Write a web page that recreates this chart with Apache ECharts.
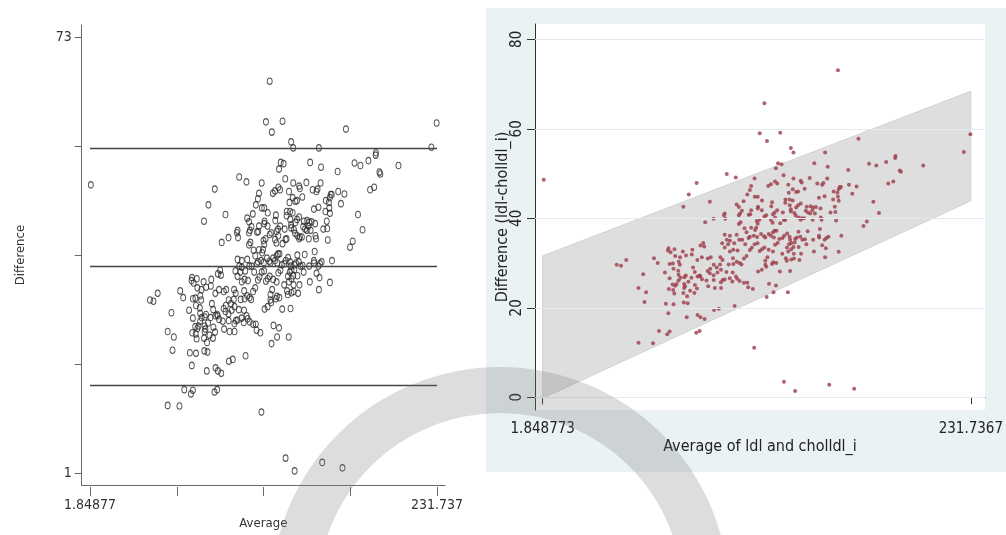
<!DOCTYPE html>
<html>
<head>
<meta charset="utf-8">
<title>Bland-Altman ldl vs cholldl_i</title>
<script src="https://cdn.jsdelivr.net/npm/echarts@6/dist/echarts.min.js"></script>
<style>
  html, body { margin: 0; padding: 0; background: #fff; }
  #chart { width: 1006px; height: 535px; }
</style>
</head>
<body>
<div id="chart"></div>
<script>
// average of ldl and cholldl_i (x) for every subject
var avgVals = [
  2.4, 118.4, 129.4, 122.3, 135.1, 136.5, 171.4, 153.5, 147.7, 154.9,
  165.9, 231.5, 228.0, 206.2, 177.1, 181.0, 186.3, 191.1, 191.3, 193.6,
  194.2, 190.1, 187.4, 170.4, 168.1, 166.3, 179.4, 182.4, 175.9, 174.1,
  162.2, 160.8, 153.5, 128.2, 130.1, 127.1, 131.2, 136.5, 140.4, 140.9,
  142.5, 145.2, 100.7, 105.5, 115.6, 84.5, 80.3, 77.4, 91.6, 113.8,
  113.1, 111.7, 115.7, 117.3, 119.6, 109.7, 106.0, 107.2, 123.0, 124.4,
  126.6, 127.8, 133.7, 134.0, 136.1, 137.9, 139.0, 132.2, 134.4, 136.1,
  132.1, 125.0, 124.6, 149.3, 151.9, 152.6, 154.6, 153.2, 150.2, 148.6,
  147.1, 146.6, 148.0, 151.0, 151.2, 151.6, 146.8, 150.7, 157.8, 158.7,
  160.8, 160.4, 160.1, 160.8, 161.3, 162.0, 158.1, 156.4, 159.0, 159.4,
  140.4, 139.0, 137.9, 137.0, 134.5, 135.1, 135.1, 137.7, 139.2, 140.4,
  140.9, 142.2, 143.6, 143.1, 144.3, 145.5, 145.7, 130.8, 132.1, 131.4,
  127.8, 126.4, 126.6, 129.4, 125.3, 125.5, 124.4, 121.9, 120.9, 119.5,
  117.3, 117.5, 113.8, 113.3, 112.5, 107.8, 108.8, 107.2, 99.6, 99.2,
  99.9, 93.6, 89.1, 118.2, 117.3, 116.8, 116.5, 115.9, 113.8, 115.2,
  113.1, 111.3, 110.2, 108.1, 107.2, 106.0, 107.4, 109.0, 110.6, 112.4,
  117.0, 119.1, 120.7, 121.4, 123.2, 124.4, 126.0, 125.5, 126.4, 127.4,
  128.9, 128.0, 126.6, 130.6, 131.5, 133.1, 134.4, 134.7, 135.3, 134.2,
  133.0, 133.7, 135.3, 137.4, 138.3, 140.2, 139.2, 141.3, 142.7, 143.4,
  144.1, 147.1, 150.2, 150.3, 151.9, 153.2, 154.2, 155.3, 153.9, 147.5,
  137.2, 136.5, 139.3, 140.6, 139.7, 136.8, 136.7, 135.3, 132.4, 132.9,
  130.5, 127.3, 125.7, 125.0, 121.9, 123.2, 125.5, 122.5, 121.4, 120.9,
  119.6, 118.4, 117.2, 115.6, 114.1, 113.1, 111.3, 109.9, 108.6, 107.6,
  106.0, 104.2, 104.0, 101.7, 104.7, 102.4, 101.4, 100.7, 99.6, 102.4,
  104.2, 106.5, 102.4, 99.6, 98.2, 97.3, 98.4, 97.1, 95.3, 93.7,
  91.8, 92.1, 90.5, 88.6, 88.1, 86.6, 87.3, 84.9, 82.2, 81.9,
  78.8, 77.1, 75.6, 74.9, 75.5, 73.0, 72.6, 69.1, 69.4, 70.5,
  70.0, 72.1, 74.6, 74.8, 75.8, 82.6, 83.5, 86.1, 87.4, 90.4,
  91.6, 93.6, 95.7, 97.6, 98.5, 99.6, 100.5, 103.9, 105.6, 106.3,
  107.6, 109.9, 111.7, 112.2, 114.7, 117.5, 119.5, 121.4, 123.4, 127.1,
  125.8, 133.5, 122.1, 134.7, 129.2, 102.3, 103.7, 94.3, 97.6, 97.5,
  93.7, 90.7, 89.8, 86.5, 85.0, 84.7, 83.6, 83.3, 78.7, 77.9,
  77.8, 78.3, 77.8, 77.4, 79.4, 81.0, 81.7, 80.1, 74.8, 73.7,
  73.0, 71.9, 72.5, 71.6, 71.7, 70.0, 69.6, 67.5, 63.6,
  61.6, 55.8, 56.5, 53.3, 57.4, 68.0, 72.1, 69.3, 77.6, 79.7,
  79.2, 85.0, 86.6, 88.8, 93.9, 96.4, 104.9, 84.3, 86.1, 70.0,
  68.7, 64.3, 61.1, 53.3, 41.6, 43.9, 46.7, 115.4, 131.4, 137.4,
  155.7, 169.1, 160.4, 120.9
];
// difference ldl - cholldl_i, same order
var diffVals = [
  48.6, 59.0, 59.1, 57.3, 55.7, 54.7, 57.8, 54.7, 52.3, 51.5,
  50.8, 58.8, 54.8, 51.8, 52.2, 51.8, 52.6, 53.5, 53.9, 50.7,
  50.4, 48.2, 47.8, 47.1, 45.5, 47.5, 43.7, 41.2, 39.3, 38.3,
  36.1, 32.5, 31.3, 52.3, 52.1, 51.2, 49.6, 48.9, 48.4, 48.0,
  46.6, 49.0, 49.9, 49.1, 48.9, 47.9, 45.3, 42.6, 43.7, 47.2,
  46.3, 45.3, 44.8, 44.8, 44.0, 43.8, 43.1, 42.5, 47.2, 47.6,
  48.2, 47.8, 47.5, 45.7, 46.5, 45.9, 46.0, 44.2, 44.2, 44.0,
  43.5, 43.6, 42.7, 47.8, 47.5, 47.9, 48.9, 44.9, 44.6, 42.5,
  42.4, 41.8, 41.1, 42.2, 40.2, 39.7, 39.7, 37.6, 44.2, 42.6,
  43.9, 44.8, 45.7, 46.5, 47.0, 47.0, 46.0, 41.3, 41.4, 39.5,
  43.3, 42.9, 42.4, 41.2, 42.9, 42.0, 41.5, 40.6, 40.2, 39.7,
  40.0, 40.0, 42.6, 41.7, 41.3, 41.1, 42.7, 41.3, 39.7, 39.6,
  41.8, 41.3, 40.2, 38.9, 39.0, 40.9, 39.6, 40.7, 40.4, 41.8,
  42.2, 42.6, 41.8, 40.9, 40.8, 41.1, 41.7, 40.7, 41.1, 40.7,
  39.9, 39.9, 39.1, 39.7, 38.8, 39.4, 37.9, 37.4, 37.9, 36.1,
  35.9, 36.9, 37.8, 39.1, 38.7, 36.3, 35.2, 35.2, 34.2, 35.6,
  35.8, 36.5, 36.0, 35.7, 36.5, 36.1, 35.7, 36.9, 37.2, 37.2,
  35.4, 34.5, 34.1, 35.6, 36.1, 36.6, 35.9, 35.2, 34.5, 34.2,
  33.5, 32.6, 33.1, 35.4, 35.7, 35.9, 37.0, 35.2, 35.3, 34.2,
  37.1, 35.2, 36.1, 35.7, 34.0, 35.2, 35.6, 35.9, 33.3, 32.6,
  34.6, 33.6, 33.6, 32.1, 30.7, 31.0, 32.1, 30.8, 31.1, 30.5,
  32.1, 30.0, 30.2, 29.8, 29.2, 33.0, 32.6, 31.3, 30.5, 33.5,
  33.1, 32.7, 34.4, 34.2, 33.4, 32.9, 31.6, 31.0, 29.7, 30.0,
  30.3, 29.8, 31.1, 29.7, 34.4, 35.0, 34.2, 35.2, 36.3, 36.1,
  33.0, 32.8, 32.6, 33.5, 34.4, 31.3, 30.7, 29.7, 29.0, 29.6,
  28.7, 31.3, 31.0, 33.7, 34.5, 33.9, 31.3, 30.7, 33.0, 31.9,
  31.7, 32.6, 31.3, 30.3, 29.6, 31.6, 33.1, 32.8, 33.3, 32.4,
  29.8, 28.7, 28.3, 27.4, 26.7, 29.0, 28.0, 27.2, 26.4, 28.2,
  27.7, 27.3, 27.9, 28.5, 26.2, 26.3, 28.0, 27.9, 27.0, 26.5,
  26.0, 25.6, 25.6, 24.6, 24.2, 28.1, 28.5, 29.6, 25.4, 25.0,
  23.5, 23.5, 22.4, 28.2, 28.1, 26.6, 25.9, 24.4, 24.4, 25.7,
  26.2, 24.8, 26.1, 27.0, 27.0, 24.3, 25.1, 23.3, 27.2, 26.8,
  25.3, 24.8, 24.4, 23.3, 22.6, 23.8, 26.7, 25.8, 26.1, 25.3,
  24.9, 24.0, 23.2, 25.2, 29.9, 26.6, 24.2, 27.9, 30.0,
  31.1, 27.5, 21.3, 24.4, 23.5, 20.9, 20.8, 18.8, 21.2, 21.0,
  17.9, 18.4, 17.9, 17.5, 19.5, 19.8, 20.4, 14.4, 14.8, 14.7,
  14.1, 14.8, 12.1, 12.2, 29.6, 29.4, 30.7, 11.1, 3.5, 1.4,
  2.8, 1.9, 73.1, 65.7
];

// left panel: mean difference and limits of agreement
var leftLimitVals = [54.7, 35.1, 15.5];
var leftXTickLabels = ["1.84877", "", "", "", "231.737"];
var leftYTickLabels = ["1", "", "", "", "73"];

// right panel: shaded band (ends at min and max average)
var bandX = [1.848773, 231.7367];
var bandUpper = [31.6, 68.4];
var bandLower = [-0.2, 43.9];
var rightXTickLabels = ["1.848773", "231.7367"];
var rightYTicks = [0, 20, 40, 60, 80];

var points = avgVals.map(function (x, i) { return [x, diffVals[i]]; });

var narrow = "'Liberation Sans Narrow', 'Arial Narrow', 'DejaVu Sans Condensed', sans-serif";

var lxMin = 1.84877, lxMax = 231.737;
var rxMin = 1.848773, rxMax = 231.7367;
// right outer frame maps the same scale as the data frame, just wider
var r1YMin = -2.838, r1YMax = 83.419;

var myChart = echarts.init(document.getElementById("chart"), null, { renderer: "canvas" });

myChart.setOption({
  animation: false,
  graphic: [
    {
      type: "rect",
      z: -1,
      silent: true,
      shape: { x: 486, y: 8, width: 520, height: 464 },
      style: { fill: "#eaf2f3" }
    },
    // faint logo watermark of the scanned page
    {
      type: "ring",
      z: 100,
      silent: true,
      shape: { cx: 500, cy: 596, r: 229, r0: 183 },
      style: { fill: "rgba(120,120,120,0.25)" }
    }
  ],
  grid: [
    { left: 81.7, right: 561, top: 25, bottom: 48 },
    { left: 90, right: 569, top: 37, bottom: 61.7 },
    { left: 535, right: 21, top: 24, bottom: 125, show: true, backgroundColor: "#ffffff", borderWidth: 0 },
    { left: 542.7, right: 31.7, top: 39.3, bottom: 137.7 }
  ],
  xAxis: [
    {
      gridIndex: 0, type: "value", min: 0, max: 1,
      axisLine: { show: true, lineStyle: { color: "#6a6a6a", width: 1 } },
      axisTick: { show: false }, axisLabel: { show: false }, splitLine: { show: false },
      name: "Average", nameLocation: "middle", nameGap: 32,
      nameTextStyle: { fontFamily: narrow, fontSize: 13, color: "#333" }
    },
    {
      gridIndex: 1, type: "value", min: lxMin, max: lxMax, interval: (lxMax - lxMin) / 4,
      offset: 13.7,
      axisLine: { show: false },
      axisTick: { show: true, length: 9, lineStyle: { color: "#6a6a6a" } },
      axisLabel: {
        margin: 11, fontFamily: narrow, fontSize: 14, color: "#333",
        formatter: function (v, i) { return leftXTickLabels[i] || ""; }
      },
      splitLine: { show: false }
    },
    {
      gridIndex: 2, type: "value", min: 0, max: 1,
      axisLine: { show: true, lineStyle: { color: "#333", width: 1 } },
      axisTick: { show: false }, axisLabel: { show: false }, splitLine: { show: false },
      name: "Average of ldl and cholldl_i", nameLocation: "middle", nameGap: 29,
      nameTextStyle: { fontFamily: narrow, fontSize: 16, color: "#222" }
    },
    {
      gridIndex: 3, type: "value", min: rxMin, max: rxMax, interval: rxMax - rxMin,
      offset: 12.7,
      axisLine: { show: false },
      axisTick: { show: true, length: 7, lineStyle: { color: "#333" } },
      axisLabel: {
        margin: 12, fontFamily: narrow, fontSize: 15, color: "#222",
        formatter: function (v, i) { return rightXTickLabels[i] || ""; }
      },
      splitLine: { show: false }
    }
  ],
  yAxis: [
    {
      gridIndex: 0, type: "value", min: 0, max: 1,
      axisLine: { show: true, lineStyle: { color: "#6a6a6a", width: 1 } },
      axisTick: { show: false }, axisLabel: { show: false }, splitLine: { show: false },
      name: "Difference", nameLocation: "middle", nameRotate: 90, nameGap: 55,
      nameTextStyle: { fontFamily: narrow, fontSize: 13, color: "#333" }
    },
    {
      gridIndex: 1, type: "value", min: 1, max: 73, interval: 18,
      offset: 8.3,
      axisLine: { show: false },
      axisTick: { show: true, length: 7, lineStyle: { color: "#6a6a6a" } },
      axisLabel: {
        margin: 10, fontFamily: narrow, fontSize: 14, color: "#333",
        formatter: function (v, i) { return leftYTickLabels[i] || ""; }
      },
      splitLine: { show: false }
    },
    {
      gridIndex: 2, type: "value", min: r1YMin, max: r1YMax,
      axisLine: { show: true, lineStyle: { color: "#333", width: 1 } },
      axisTick: { show: false }, axisLabel: { show: false }, splitLine: { show: false },
      name: "Difference (ldl-cholldl_i)", nameLocation: "middle", nameRotate: 90, nameGap: 24,
      nameTextStyle: { fontFamily: narrow, fontSize: 16, color: "#222" }
    },
    {
      gridIndex: 3, type: "value", min: 0, max: 80, interval: 20,
      offset: 7.7,
      axisLine: { show: false },
      axisTick: { show: true, length: 8, lineStyle: { color: "#333" } },
      axisLabel: { margin: 10, rotate: 90, fontFamily: narrow, fontSize: 15, color: "#222" },
      splitLine: { show: false }
    }
  ],
  series: [
    {
      name: "left",
      type: "scatter",
      xAxisIndex: 1, yAxisIndex: 1,
      symbol: "circle",
      symbolSize: [5, 6.5],
      itemStyle: { color: "rgba(255,255,255,0)", borderColor: "#2b2b2b", borderWidth: 1 },
      data: points,
      markLine: {
        silent: true,
        symbol: "none",
        label: { show: false },
        lineStyle: { color: "#444", width: 1.3, type: "solid" },
        data: leftLimitVals.map(function (v) { return { yAxis: v }; })
      }
    },
    {
      name: "grid",
      type: "scatter",
      xAxisIndex: 2, yAxisIndex: 2,
      data: [],
      markLine: {
        silent: true,
        symbol: "none",
        label: { show: false },
        lineStyle: { color: "#e2ecef", width: 1, type: "solid" },
        data: rightYTicks.map(function (v) { return { yAxis: v }; })
      }
    },
    {
      name: "band",
      type: "custom",
      xAxisIndex: 3, yAxisIndex: 3,
      data: [[bandX[0], bandUpper[0]]],
      renderItem: function (params, api) {
        var pts = [
          api.coord([bandX[0], bandUpper[0]]),
          api.coord([bandX[1], bandUpper[1]]),
          api.coord([bandX[1], bandLower[1]]),
          api.coord([bandX[0], bandLower[0]])
        ];
        return {
          type: "polygon",
          shape: { points: pts },
          style: { fill: "#dedede", stroke: "#d2d2d2", lineWidth: 1 }
        };
      },
      z: 2
    },
    {
      name: "right",
      type: "scatter",
      xAxisIndex: 3, yAxisIndex: 3,
      symbol: "circle",
      symbolSize: 4,
      itemStyle: { color: "#9d3c48" },
      data: points,
      z: 3
    }
  ]
});

window.addEventListener("resize", function () {
  myChart.resize();
});
</script>
</body>
</html>
